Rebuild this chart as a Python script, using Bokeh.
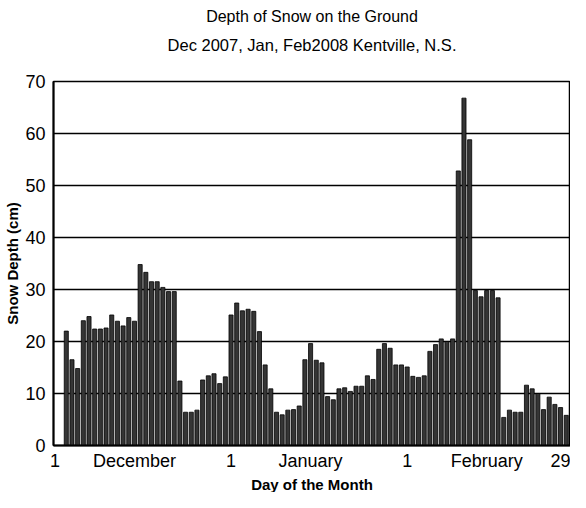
from bokeh.plotting import figure
from bokeh.models import Title, FixedTicker, Range1d
from bokeh.embed import file_html
from bokeh.resources import INLINE

# Snow depth (cm) per day, Kentville N.S.
dec_2007 = [0, 0, 22, 16.5, 14.8, 24, 24.8, 22.4, 22.4, 22.6, 25.1, 23.9, 23, 24.6, 23.9,
            34.8, 33.3, 31.5, 31.5, 30.4, 29.6, 29.6, 12.4, 6.4, 6.4, 6.8, 12.6, 13.4, 13.8,
            11.9, 13.2]
jan_2008 = [25.1, 27.4, 25.9, 26.2, 25.8, 21.9, 15.5, 10.9, 6.4, 5.9, 6.8, 6.9, 7.6, 16.5,
            19.6, 16.4, 15.9, 9.4, 8.8, 10.9, 11.1, 10.4, 11.4, 11.4, 13.4, 12.7, 18.5, 19.6,
            18.7, 15.5, 15.5]
feb_2008 = [15.1, 13.3, 13.1, 13.4, 18.1, 19.4, 20.5, 20, 20.5, 52.8, 66.8, 58.8, 29.8, 28.6,
            29.8, 29.8, 28.4, 5.4, 6.8, 6.4, 6.4, 11.6, 10.9, 10, 6.9, 9.3, 7.9, 7.3, 5.8]

x_tick_pos = [1, 15, 32, 46, 63, 77, 91]
x_tick_labels = ["1", "December", "1", "January", "1", "February", "29"]
y_ticks = [0, 10, 20, 30, 40, 50, 60, 70]

depth = dec_2007 + jan_2008 + feb_2008
days = list(range(1, len(depth) + 1))

FONT = "Liberation Sans"

p = figure(width=570, height=492, x_range=Range1d(0.75, 91.75), y_range=Range1d(0, 70),
           output_backend="svg", toolbar_location=None, title=None,
           min_border_left=53, min_border_right=0, min_border_top=0, min_border_bottom=0)

# spacer between plot frame and subtitle
p.add_layout(Title(text=" ", text_font_size="1px", standoff=21), "above")
p.add_layout(Title(text="Dec 2007, Jan, Feb2008 Kentville, N.S.", align="center",
                   text_font=FONT, text_font_size="16.5px", text_font_style="normal",
                   text_color="black", standoff=7.5), "above")
p.add_layout(Title(text="Depth of Snow on the Ground", align="center",
                   text_font=FONT, text_font_size="16px", text_font_style="normal",
                   text_color="black", standoff=10), "above")
p.add_layout(Title(text="Day of the Month", align="center",
                   text_font=FONT, text_font_size="15px", text_font_style="bold",
                   text_color="black", standoff=0), "below")

p.vbar(x=days, top=depth, width=0.72, fill_color="#353535", line_color="black", line_width=0.8)

p.xgrid.visible = False
p.ygrid.ticker = FixedTicker(ticks=y_ticks)
p.ygrid.grid_line_color = "black"
p.ygrid.grid_line_width = 1.3

p.yaxis.ticker = FixedTicker(ticks=y_ticks)
p.yaxis.axis_label = "Snow Depth (cm)"
p.xaxis.ticker = FixedTicker(ticks=x_tick_pos)
p.xaxis.major_label_overrides = {pos: lab for pos, lab in zip(x_tick_pos, x_tick_labels)}

for ax in (p.xaxis[0], p.yaxis[0]):
    ax.major_label_text_font = FONT
    ax.major_label_text_font_size = "18px"
    ax.major_label_text_color = "black"
    ax.axis_label_text_font = FONT
    ax.axis_label_text_font_size = "15px"
    ax.axis_label_text_font_style = "bold"
    ax.axis_label_text_color = "black"
    ax.major_tick_out = 0
    ax.major_tick_in = 0
    ax.minor_tick_out = 0
    ax.minor_tick_in = 0
    ax.axis_line_color = "black"
    ax.axis_line_width = 2

p.yaxis.major_label_standoff = 8
p.yaxis.axis_label_standoff = 1
p.xaxis.major_label_standoff = 5

p.outline_line_color = "black"
p.outline_line_width = 1.5
p.background_fill_color = "white"
p.border_fill_color = "white"

open("out.html", "w").write(file_html(p, INLINE))
